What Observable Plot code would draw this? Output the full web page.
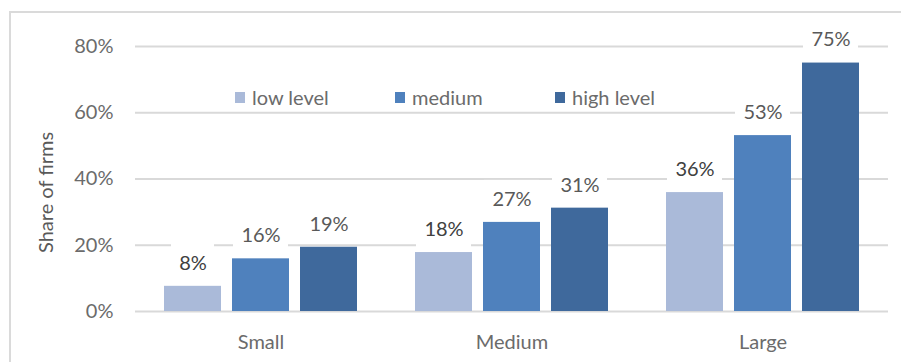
<!DOCTYPE html>
<html>
<head>
<meta charset="utf-8">
<script src="https://cdn.jsdelivr.net/npm/d3@7"></script>
<script src="https://cdn.jsdelivr.net/npm/@observablehq/plot@0.6"></script>
<style>
  body { margin: 0; background: #fff; font-family: Lato, sans-serif; }
  #wrap { position: relative; width: 901px; height: 362px; overflow: hidden; background: #fff; }
  #frame { position: absolute; left: 9px; top: 11px; width: 900px; height: 360px;
           border-left: 2px solid #dadada; border-top: 2px solid #dadada; pointer-events: none; }
  #legend { position: absolute; left: 235px; top: 87px; display: flex; font-family: Lato, sans-serif;
            font-size: 20px; line-height: 20px; color: #6b6b6b; }
  #legend .item { width: 160px; display: flex; align-items: center; white-space: nowrap; }
  #legend .sw { width: 10px; height: 11px; margin-right: 7px; flex: none; }
</style>
</head>
<body>
<div id="wrap"></div>
<script>
const categories = ["Small", "Medium", "Large"];
const levels = ["low level", "medium", "high level"];
const lowLevel = [7.6, 17.8, 35.9];
const medium = [15.9, 26.9, 53.1];
const highLevel = [19.4, 31.2, 75.0];
const colors = ["#aabad9", "#4f81bd", "#3f699c"];
const yTicks = [0, 20, 40, 60, 80];
const yTitle = "Share of firms";

const series = [lowLevel, medium, highLevel];
const data = [];
categories.forEach((c, i) => levels.forEach((l, j) => data.push({category: c, level: l, value: series[j][i]})));
const lab = d => Math.round(d.value) + "%";

const plot = Plot.plot({
  width: 901,
  height: 362,
  marginLeft: 135,
  marginRight: 13,
  marginTop: 46,
  marginBottom: 51,
  style: {fontFamily: "Lato, sans-serif", fontSize: "20px", color: "#6b6b6b", background: "transparent"},
  fx: {domain: categories, padding: 0, label: null},
  x: {domain: levels, paddingInner: 0.16, paddingOuter: 0.41, axis: null},
  y: {domain: [0, 80], label: null},
  color: {domain: levels, range: colors},
  marks: [
    Plot.gridY(yTicks, {stroke: "#d9d9d9", strokeOpacity: 1, strokeWidth: 2}),
    Plot.axisY(yTicks, {tickSize: 0, tickPadding: 22, tickFormat: d => d + "%", fontSize: 20, label: null}),
    Plot.axisFx({anchor: "bottom", tickSize: 0, tickPadding: 23, fontSize: 20, label: null}),
    Plot.barY(data, {fx: "category", x: "level", y: "value", fill: "level"}),
    Plot.barY(data.filter(d => lab(d).length < 3), {fx: "category", x: "level", y1: "value", y2: "value", fill: "white",
      insetTop: -42, insetBottom: 4, insetLeft: 7, insetRight: 7}),
    Plot.barY(data.filter(d => lab(d).length >= 3), {fx: "category", x: "level", y1: "value", y2: "value", fill: "white",
      insetTop: -42, insetBottom: 4, insetLeft: 1, insetRight: 1}),
    Plot.text(data.filter(d => d.level === levels[0]), {fx: "category", x: "level", y: "value", text: lab,
      dy: -23, lineAnchor: "middle", fontSize: 20, fill: "#404040"}),
    Plot.text(data.filter(d => d.level !== levels[0]), {fx: "category", x: "level", y: "value", text: lab,
      dy: -23, lineAnchor: "middle", fontSize: 20, fill: "#595959"}),
    Plot.text([yTitle], {frameAnchor: "left", facetAnchor: "left", rotate: -90, dx: -89, dy: 74, fontSize: 20, fill: "#595959"})
  ]
});

const wrap = document.getElementById("wrap");
wrap.appendChild(plot);

const legend = document.createElement("div");
legend.id = "legend";
levels.forEach((l, i) => {
  const item = document.createElement("div");
  item.className = "item";
  const sw = document.createElement("span");
  sw.className = "sw";
  sw.style.background = colors[i];
  const t = document.createElement("span");
  t.textContent = l;
  item.appendChild(sw);
  item.appendChild(t);
  legend.appendChild(item);
});
wrap.appendChild(legend);

const frame = document.createElement("div");
frame.id = "frame";
wrap.appendChild(frame);
</script>
</body>
</html>
